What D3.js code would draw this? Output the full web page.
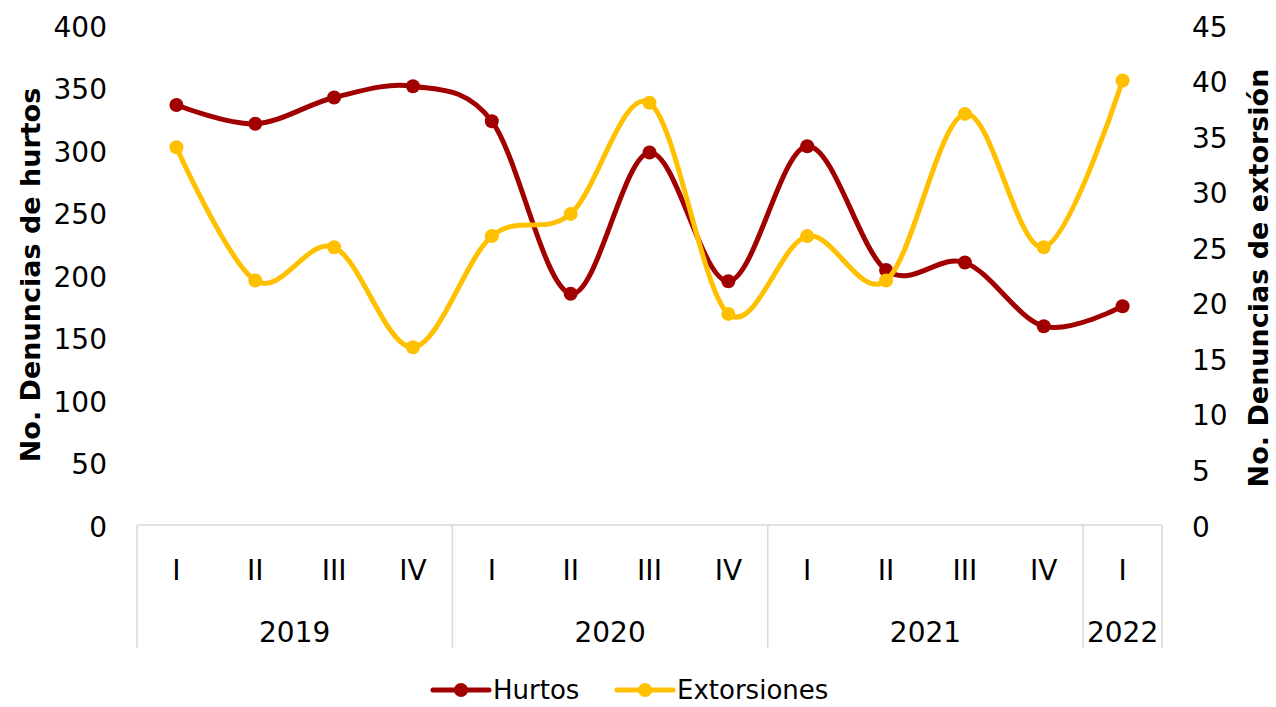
<!DOCTYPE html>
<html>
<head>
<meta charset="utf-8">
<script src="https://cdn.jsdelivr.net/npm/d3@7"></script>
<style>
  html, body { margin: 0; padding: 0; background: #fff; }
  svg { display: block; }
  text { font-family: "DejaVu Sans", "Noto Sans", sans-serif; fill: #000; }
</style>
</head>
<body>
<svg id="chart" width="1276" height="707"></svg>
<script>
// Quarterly complaints, 2019 Q1 – 2022 Q1
const quarters = ["I", "II", "III", "IV", "I", "II", "III", "IV", "I", "II", "III", "IV", "I"];
const years = ["2019", "2019", "2019", "2019", "2020", "2020", "2020", "2020", "2021", "2021", "2021", "2021", "2022"];
const hurtos = [336, 321, 342, 351, 323, 185, 298, 195, 303, 204, 210, 159, 175];
const extorsiones = [34, 22, 25, 16, 26, 28, 38, 19, 26, 22, 37, 25, 40];
const leftTicks = [0, 50, 100, 150, 200, 250, 300, 350, 400];
const rightTicks = [0, 5, 10, 15, 20, 25, 30, 35, 40, 45];

const svg = d3.select("#chart");
const plotLeft = 137, plotRight = 1162, plotTop = 25, plotBottom = 525;
const tickFont = 28;
const legendFont = 26;

const idx = quarters.map((_, i) => i);
const x = d3.scaleBand().domain(idx).range([plotLeft, plotRight]).padding(0);
const yL = d3.scaleLinear().domain([0, 400]).range([plotBottom, plotTop]);
const yR = d3.scaleLinear().domain([0, 45]).range([plotBottom, plotTop]);

const grid = "#d9d9d9";

// Left value axis
const axL = svg.append("g").attr("transform", `translate(${plotLeft - 30},1)`)
  .call(d3.axisLeft(yL).tickValues(leftTicks).tickSize(0).tickPadding(0));
axL.select(".domain").remove();
axL.selectAll("text").attr("font-size", tickFont).attr("font-family", null).attr("dy", "0.36em");

// Right value axis
const axR = svg.append("g").attr("transform", `translate(${plotRight + 30},1)`)
  .call(d3.axisRight(yR).tickValues(rightTicks).tickSize(0).tickPadding(0));
axR.select(".domain").remove();
axR.selectAll("text").attr("font-size", tickFont).attr("font-family", null).attr("dy", "0.36em");

// Category axis: baseline plus year-group separators
const axisG = svg.append("g");
axisG.append("line")
  .attr("x1", plotLeft).attr("x2", plotRight).attr("y1", plotBottom).attr("y2", plotBottom)
  .attr("stroke", grid).attr("stroke-width", 1.5);

const groups = d3.groups(idx, i => years[i]);
const seps = [plotLeft].concat(groups.map(([, ids]) => x(ids[ids.length - 1]) + x.bandwidth()));
axisG.selectAll("line.sep").data(seps).join("line")
  .attr("class", "sep")
  .attr("x1", d => d).attr("x2", d => d)
  .attr("y1", plotBottom).attr("y2", 648)
  .attr("stroke", grid).attr("stroke-width", 1.5);

axisG.selectAll("text.q").data(idx).join("text")
  .attr("class", "q")
  .attr("x", i => x(i) + x.bandwidth() / 2)
  .attr("y", 570).attr("dy", "0.36em")
  .attr("text-anchor", "middle").attr("font-size", tickFont)
  .text(i => quarters[i]);

axisG.selectAll("text.yr").data(groups).join("text")
  .attr("class", "yr")
  .attr("x", ([, ids]) => (x(ids[0]) + x(ids[ids.length - 1]) + x.bandwidth()) / 2)
  .attr("y", 632).attr("dy", "0.36em")
  .attr("text-anchor", "middle").attr("font-size", tickFont)
  .text(([y]) => y);

// Axis titles
svg.append("text")
  .attr("transform", `translate(30,275) rotate(-90)`)
  .attr("text-anchor", "middle").attr("dy", "0.36em")
  .attr("font-size", 27).attr("font-weight", "bold")
  .text("No. Denuncias de hurtos");

svg.append("text")
  .attr("transform", `translate(1258,278) rotate(-90)`)
  .attr("text-anchor", "middle").attr("dy", "0.36em")
  .attr("font-size", 27).attr("font-weight", "bold")
  .text("No. Denuncias de extorsión");

// Series
const series = [
  { name: "Hurtos", values: hurtos, y: yL, color: "#a00000" },
  { name: "Extorsiones", values: extorsiones, y: yR, color: "#ffc000" }
];

const plot = svg.append("g");
series.forEach(s => {
  const line = d3.line()
    .x((d, i) => x(i) + x.bandwidth() / 2)
    .y(d => s.y(d))
    .curve(d3.curveCardinal.tension(0));
  const g = plot.append("g");
  g.append("path").datum(s.values)
    .attr("d", line).attr("fill", "none")
    .attr("stroke", s.color).attr("stroke-width", 5)
    .attr("stroke-linejoin", "round").attr("stroke-linecap", "round");
  g.selectAll("circle").data(s.values).join("circle")
    .attr("cx", (d, i) => x(i) + x.bandwidth() / 2)
    .attr("cy", d => s.y(d))
    .attr("r", 7).attr("fill", s.color);
});

// Legend
const legend = svg.append("g");
const legendItems = [
  { name: "Hurtos", color: "#a00000", x0: 433 },
  { name: "Extorsiones", color: "#ffc000", x0: 617 }
];
legendItems.forEach(it => {
  const g = legend.append("g").attr("transform", `translate(${it.x0},690)`);
  g.append("line").attr("x1", 0).attr("x2", 56).attr("y1", 0).attr("y2", 0)
    .attr("stroke", it.color).attr("stroke-width", 5).attr("stroke-linecap", "round");
  g.append("circle").attr("cx", 28).attr("cy", 0).attr("r", 7).attr("fill", it.color);
  g.append("text").attr("x", 60).attr("y", 0).attr("dy", "0.36em")
    .attr("font-size", legendFont).text(it.name);
});
</script>
</body>
</html>
